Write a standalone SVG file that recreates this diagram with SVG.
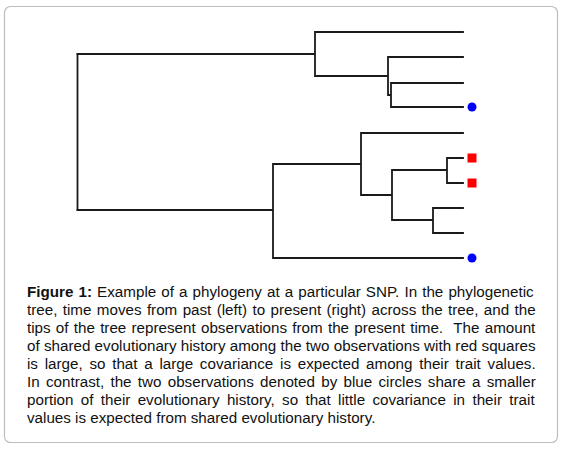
<svg xmlns="http://www.w3.org/2000/svg" width="565" height="450" viewBox="0 0 565 450">
<style>
.frame{fill:#fff;stroke:#bdbdbd;stroke-width:1.2}
.br{fill:none;stroke:#1a1a1a;stroke-width:1.8;stroke-linecap:square}
.cap{font-family:"Liberation Sans",Arial,sans-serif;font-size:15.2px;fill:#111}
.b{font-weight:bold}
.blue{fill:#0000ff}
.red{fill:#ff0000}
</style>
<rect width="565" height="450" fill="#fff"/>
<rect class="frame" x="4.5" y="6.5" width="553" height="436" rx="6"/>
<g id="connectors">
<path class="br" d="M77.5,54 V210"/>
<path class="br" d="M77.5,54 H315 M315,32 V76 M315,32 H463 M315,76 H388 M388,57 V95 M388,57 H463 M388,95 H391 M391,83 V107 M391,83 H463 M391,107 H463"/>
<path class="br" d="M77.5,210 H273 M273,164 V258 M273,258 H463 M273,164 H361 M361,133 V195 M361,133 H463 M361,195 H392 M392,170 V220 M392,170 H447 M447,158 V183 M447,158 H463 M447,183 H463 M392,220 H433 M433,208 V233 M433,208 H463 M433,233 H463"/>
</g>
<g id="tip-blue-1"><circle class="blue" cx="472" cy="107" r="4.5"/></g>
<g id="tip-blue-2"><circle class="blue" cx="472" cy="258" r="4.5"/></g>
<g id="tip-red-1"><rect class="red" x="467.5" y="153.5" width="9" height="9"/></g>
<g id="tip-red-2"><rect class="red" x="467.5" y="178.5" width="9" height="9"/></g>
<g id="caption" class="cap">
<text x="27" y="296.5" word-spacing="0.88"><tspan class="b">Figure 1:</tspan> Example of a phylogeny at a particular SNP. In the phylogenetic</text>
<text x="27" y="314.6" word-spacing="1.14">tree, time moves from past (left) to present (right) across the tree, and the</text>
<text x="27" y="332.7" word-spacing="1.02">tips of the tree represent observations from the present time.&#160; The amount</text>
<text x="27" y="350.8" word-spacing="0.04">of shared evolutionary history among the two observations with red squares</text>
<text x="27" y="368.9" word-spacing="2.5">is large, so that a large covariance is expected among their trait values.</text>
<text x="27" y="387" word-spacing="2.04">In contrast, the two observations denoted by blue circles share a smaller</text>
<text x="27" y="405.1" word-spacing="3.12">portion of their evolutionary history, so that little covariance in their trait</text>
<text x="27" y="423.2">values is expected from shared evolutionary history.</text>
</g>
</svg>
